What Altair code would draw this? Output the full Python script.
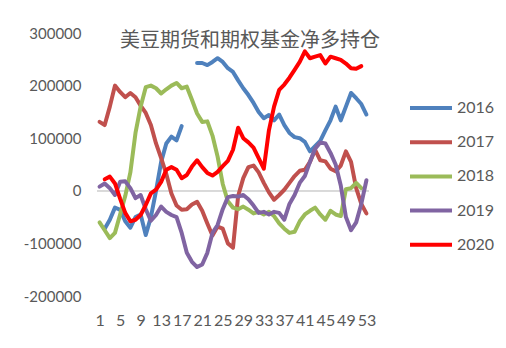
import altair as alt
import pandas as pd

weeks = list(range(1, 54))
years = ["2016", "2017", "2018", "2019", "2020"]
colors = ["#4F81BD", "#C0504D", "#9BBB59", "#8064A2", "#FF0000"]
widths = [4, 4, 4, 4, 6]
x_ticks = list(range(1, 54, 4))
y_ticks = list(range(-200000, 300001, 50000))
title_text = "美豆期货和期权基金净多持仓"

s2016 = [None, -72000, -55000, -32000, -36000, -58000, -70000, -50000, -45000, -84000,
         -50000, 0, 55000, 90000, 103000, 96000, 123000, None, None, 243000,
         243000, 239000, 245000, 252000, 245000, 233000, 226000, 210000, 195000, 182000,
         167000, 150000, 138000, 144000, 134000, 145000, 125000, 110000, 102000, 100000,
         93000, 75000, 85000, 95000, 115000, 134000, 160000, 134000, 160000, 186000,
         176000, 165000, 145000]
s2017 = [131000, 125000, 160000, 200000, 188000, 178000, 186000, 178000, 162000, 148000,
         125000, 90000, 62000, 32000, -5000, -28000, -36000, -35000, -26000, -21000,
         -38000, -62000, -85000, -68000, -72000, -100000, -108000, -10000, 24000, 45000,
         48000, 35000, 15000, -3000, -17000, -8000, 2000, 15000, 28000, 38000,
         40000, 55000, 78000, 58000, 56000, 42000, 37000, 48000, 75000, 55000,
         5000, -25000, -43000]
s2018 = [-60000, -75000, -90000, -80000, -45000, -10000, 35000, 110000, 160000, 197000,
         200000, 195000, 185000, 193000, 200000, 205000, 195000, 198000, 173000, 147000,
         131000, 132000, 105000, 65000, 13000, -20000, -32000, -35000, -30000, -36000,
         -43000, -40000, -45000, -40000, -48000, -62000, -72000, -80000, -78000, -58000,
         -45000, -38000, -32000, -45000, -55000, -38000, -45000, -48000, 3000, 5000,
         15000, 5000, None]
s2019 = [8000, 14000, 5000, -8000, 17000, 18000, 5000, -14000, -8000, -35000,
         -57000, -46000, -30000, -40000, -46000, -50000, -80000, -118000, -135000, -145000,
         -140000, -118000, -80000, -65000, -35000, -12000, -10000, -11000, -8000, -16000,
         -28000, -42000, -40000, -45000, -40000, -42000, -55000, -25000, -8000, 15000,
         28000, 55000, 80000, 92000, 90000, 72000, 50000, 10000, -50000, -75000,
         -60000, -25000, 20000]
s2020 = [None, 22000, 27000, 14000, -15000, -42000, -58000, -55000, -46000, -27000,
         -5000, 2000, 17000, 40000, 45000, 40000, 24000, 30000, 46000, 58000,
         45000, 34000, 29000, 36000, 47000, 57000, 78000, 120000, 100000, 92000,
         82000, 62000, 42000, 115000, 160000, 192000, 202000, 215000, 230000, 245000,
         265000, 252000, 255000, 258000, 242000, 255000, 252000, 249000, 242000, 233000,
         232000, 237000, None]

rows = []
for yr, series in zip(years, [s2016, s2017, s2018, s2019, s2020]):
    seg = 0
    gap = True
    for w, v in zip(weeks, series):
        if v is None:
            gap = True
            continue
        if gap:
            seg += 1
            gap = False
        rows.append({"week": w, "value": v, "year": yr, "seg": f"{yr}-{seg}"})
df = pd.DataFrame(rows)

FONT = "Lato"
GREY = "#595959"

x_enc = alt.X(
    "week:Q",
    scale=alt.Scale(domain=[0.5, 53.5], nice=False, zero=False),
    axis=alt.Axis(values=x_ticks, title=None, grid=False, domain=False, ticks=False,
                  labelPadding=16, labelFontSize=16, labelColor=GREY, labelFont=FONT,
                  labelOverlap=False, labelFlush=False, labelBound=False, format="d"),
)
y_enc = alt.Y(
    "value:Q",
    scale=alt.Scale(domain=[-200000, 300000], nice=False, zero=False),
    axis=alt.Axis(values=y_ticks, title=None, grid=False, domain=False, ticks=False,
                  labelPadding=16, labelFontSize=15, labelColor=GREY, labelFont=FONT,
                  labelOverlap=False, labelExpr="datum.value + ''"),
)

zero = alt.Chart(df).mark_rule(color="#D9D9D9", strokeWidth=1).encode(y=alt.datum(0))

lines = alt.Chart(df).mark_line(strokeJoin="round", strokeCap="round").encode(
    x=x_enc,
    y=y_enc,
    color=alt.Color("year:N", scale=alt.Scale(domain=years, range=colors),
                    legend=alt.Legend(title=None)),
    strokeWidth=alt.StrokeWidth("year:N", scale=alt.Scale(domain=years, range=widths),
                                legend=alt.Legend(title=None)),
    detail="seg:N",
)

chart = (
    alt.layer(zero, lines)
    .properties(
        width=272,
        height=263,
        autosize=alt.AutoSizeParams(type="none"),
        padding={"left": 97, "top": 33, "right": 137, "bottom": 52},
        background="white",
        title=alt.TitleParams(title_text, font="Noto Sans CJK SC", fontSize=20,
                              fontWeight="normal", color=GREY, anchor="middle",
                              frame="group", offset=0, dx=17, dy=35, baseline="middle"),
    )
    .configure_view(stroke=None)
    .configure_legend(orient="none", legendX=311, legendY=65, symbolType="stroke",
                      symbolSize=1764, labelFontSize=16, labelColor=GREY, labelFont=FONT,
                      clipHeight=20, rowPadding=14.2, labelOffset=3, padding=0)
)

chart.save("out.html", embed_options={"renderer": "svg", "actions": False})
